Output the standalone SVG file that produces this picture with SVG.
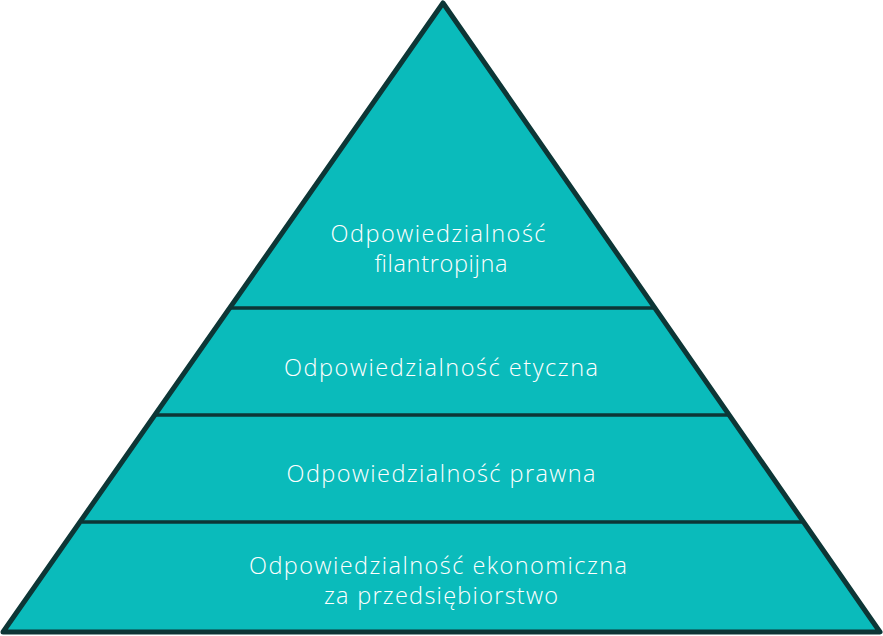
<svg xmlns="http://www.w3.org/2000/svg" width="883" height="636" viewBox="0 0 883 636">
<style>
.layer{fill:#0ABBBB;stroke:none}
.sep{stroke:#0D3636;stroke-width:3.5;fill:none}
.outline{fill:none;stroke:#0D3636;stroke-width:5;stroke-linejoin:round}
.t{font-family:"Open Sans",Lato,sans-serif;font-size:23.5px;fill:#FFFFFF;text-anchor:middle;font-weight:300}
</style>
<rect width="883" height="636" fill="#FFFFFF"/>
<g id="layer-filantropijna">
<polygon class="layer" points="443,3 231,308 655,308"/>
<text class="t" x="438" y="242" textLength="215" lengthAdjust="spacing">Odpowiedzialność</text>
<text class="t" x="441" y="272" textLength="133" lengthAdjust="spacing">filantropijna</text>
</g>
<g id="layer-etyczna">
<polygon class="layer" points="231,308 655,308 729,415 156,415"/>
<text class="t" x="441" y="376" textLength="314" lengthAdjust="spacing">Odpowiedzialność etyczna</text>
</g>
<g id="layer-prawna">
<polygon class="layer" points="156,415 729,415 804,522 82,522"/>
<text class="t" x="441" y="482" textLength="309" lengthAdjust="spacing">Odpowiedzialność prawna</text>
</g>
<g id="layer-ekonomiczna">
<polygon class="layer" points="82,522 804,522 880,632 3,632"/>
<text class="t" x="438" y="574" textLength="378" lengthAdjust="spacing">Odpowiedzialność ekonomiczna</text>
<text class="t" x="441" y="604" textLength="234" lengthAdjust="spacing">za przedsiębiorstwo</text>
</g>
<g id="connectors">
<line class="sep" x1="231" y1="308" x2="655" y2="308"/>
<line class="sep" x1="156" y1="415" x2="729" y2="415"/>
<line class="sep" x1="82" y1="522" x2="804" y2="522"/>
<polygon class="outline" points="443,3 880,632 3,632"/>
</g>
</svg>
